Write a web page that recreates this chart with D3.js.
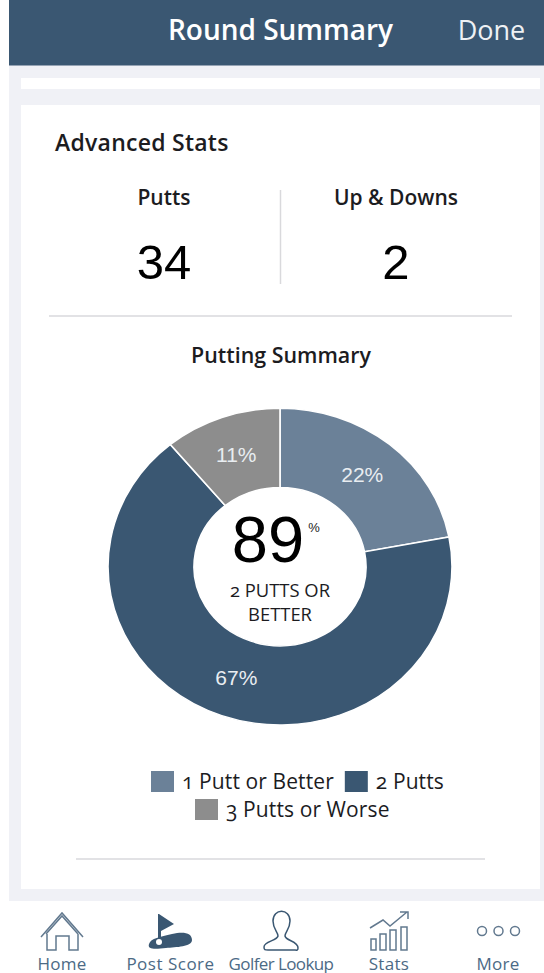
<!DOCTYPE html>
<html>
<head>
<meta charset="utf-8">
<script src="https://cdnjs.cloudflare.com/ajax/libs/d3/7.8.5/d3.min.js"></script>
<style>
  html, body { margin: 0; padding: 0; background: #fff; }
  svg { display: block; }
  text { font-family: "Open Sans", sans-serif; fill: #1c1c1f; font-feature-settings: "onum"; }
</style>
</head>
<body>
<svg width="544" height="973"></svg>
<script>
// Data
const categories = ['1 Putt or Better', '2 Putts', '3 Putts or Worse'];
const values = [22, 67, 11];
const colors = ['#6b8198', '#3a5772', '#8d8d8d'];
const stat_names = ['Putts', 'Up & Downs'];
const stat_values = [34, 2];
const center_value = 89;
const center_lines = ['2 PUTTS OR', 'BETTER'];
const nav_labels = ['Home', 'Post Score', 'Golfer Lookup', 'Stats', 'More'];

// Constants
const svg = d3.select('svg');
const width = +svg.attr('width');
const height = +svg.attr('height');
const navy = '#3a5772';
const page_bg = '#f0f1f6';
const rule = '#d9d9dc';
const helv = '"Liberation Sans", Arial, sans-serif';

const label = (parent, x, y, str, size, opts = {}) => parent.append('text')
    .attr('x', x)
    .attr('y', y)
    .attr('text-anchor', opts.anchor || 'middle')
    .attr('font-size', size)
    .attr('font-weight', opts.weight || 400)
    .attr('letter-spacing', opts.spacing || null)
    .style('font-family', opts.family || null)
    .style('fill', opts.fill || null)
    .text(str);

// Page frame
svg.append('rect').attr('x', 9).attr('y', 0).attr('width', width - 9).attr('height', 901).attr('fill', page_bg);
svg.append('rect').attr('x', 9).attr('y', 0).attr('width', width - 9).attr('height', 65.5).attr('fill', navy);
svg.append('rect').attr('x', 21).attr('y', 78).attr('width', 519).attr('height', 11).attr('fill', '#fff');
svg.append('rect').attr('x', 21).attr('y', 105).attr('width', 519).attr('height', 784).attr('fill', '#fff');

label(svg, 280.5, 40, 'Round Summary', 28, { weight: 600, fill: '#fff' });
label(svg, 491.5, 40, 'Done', 27, { fill: '#eef1f4' });

// Stats block
label(svg, 55, 151, 'Advanced Stats', 23, { anchor: 'start', weight: 600, spacing: 0.25 });
const stat_x = d3.scalePoint().domain(stat_names).range([164, 396]);
stat_names.forEach((name, i) => {
    label(svg, stat_x(name), 205, name, 21, { weight: 600 });
    label(svg, stat_x(name), 279, stat_values[i], 49, { family: helv, fill: '#000' });
});
svg.append('line').attr('x1', 280.5).attr('x2', 280.5).attr('y1', 190).attr('y2', 284).attr('stroke', rule).attr('stroke-width', 1.5);
svg.append('line').attr('x1', 49).attr('x2', 512).attr('y1', 316).attr('y2', 316).attr('stroke', rule).attr('stroke-width', 1.5);
svg.append('line').attr('x1', 76).attr('x2', 485).attr('y1', 859).attr('y2', 859).attr('stroke', rule).attr('stroke-width', 1.5);

label(svg, 281, 363, 'Putting Summary', 21.4, { weight: 600 });

// Donut, squashed vertically like the screenshot
const color = d3.scaleOrdinal().domain(categories).range(colors);
const pie = d3.pie().sort(null).value(d => d.value);
const arc = d3.arc().innerRadius(86).outerRadius(172);
const slices = pie(categories.map((c, i) => ({ category: c, value: values[i] })));
const donut = svg.append('g').attr('transform', 'translate(280,566.6) scale(1,0.921)');

donut.selectAll('path')
    .data(slices)
    .enter()
    .append('path')
    .attr('d', arc)
    .attr('fill', d => color(d.data.category))
    .attr('stroke', '#fff')
    .attr('stroke-width', 1.6);

donut.selectAll('.pct')
    .data(slices)
    .enter()
    .append('text')
    .attr('class', 'pct')
    .attr('transform', d => `translate(${arc.centroid(d)})`)
    .attr('dy', '.36em')
    .attr('text-anchor', 'middle')
    .attr('font-size', 21)
    .style('font-family', helv)
    .style('fill', '#e9edf1')
    .text(d => d.data.value + '%');

// Centre text
label(svg, 268, 562, center_value, 65, { family: helv, fill: '#000' });
label(svg, 314, 532, '%', 13, { family: helv, fill: '#222' });
center_lines.forEach((line, i) => {
    label(svg, 280, 597 + i * 24, line, 18.4);
});

// Legend
const legend_rows = [
    { x: 151, y: 771, items: [0, 1] },
    { x: 195, y: 799, items: [2] },
];
const legend = svg.append('g');
legend_rows.forEach(row => {
    let x = row.x;
    row.items.forEach(i => {
        legend.append('rect')
            .attr('x', x)
            .attr('y', row.y)
            .attr('width', 23)
            .attr('height', 21)
            .attr('fill', color(categories[i]));
        const t = label(legend, x + 31, row.y + 17.5, categories[i], 21, { anchor: 'start', spacing: 0.1 });
        x += 31 + t.node().getComputedTextLength() + 11;
    });
});

// Bottom nav
const nav_x = [62, 170.5, 281, 389, 498];
const nav_spacing = [0.3, 0.5, -0.6, 0.3, 0.3];
nav_labels.forEach((name, i) => {
    label(svg, nav_x[i], 969.5, name, 17, { fill: '#4c6a85', weight: 500, spacing: nav_spacing[i] });
});
const nav = svg.append('g').attr('fill', 'none').attr('stroke', '#62798f').attr('stroke-width', 1.5);
// home
nav.append('path').attr('d', 'M41 937 L62 913 L83 937 M46 934 L62 916 L78 934 M47 934 V950 H56 V936 H69 V950 H78 V934');
// flag and green
svg.append('path').attr('fill', navy).attr('d', 'M159 914 L174 924 L161 931 V942 H158 V914 Z');
svg.append('path').attr('fill', navy).attr('d', 'M149 944 C151 938 160 937 172 934 C184 931 192 933 192 940 C192 947 176 947 166 948 C156 949 147 950 149 944 Z');
svg.append('circle').attr('cx', 159).attr('cy', 942).attr('r', 3).attr('fill', '#fff');
// golfer
nav.append('path').attr('stroke', navy).attr('d', 'M273 921 C273 908 290 908 290 921 C290 929 285 932 285 936 C286 941 298 941 298 948 C298 951 296 950 294 950 H268 C265 950 264 950 264 947 C264 941 277 941 278 936 C278 932 273 929 273 921 Z');
// stats
nav.append('path').attr('d', 'M370 928 L383 920 L390 926 L407 912 M400 912 H408 V919');
nav.append('path').attr('d', 'M371 939 H376 V950 H371 Z M380 934 H386 V950 H380 Z M390 930 H396 V950 H390 Z M401 927 H407 V950 H401 Z');
// more
d3.range(3).forEach(i => {
    nav.append('circle').attr('cx', 482 + i * 16.5).attr('cy', 931).attr('r', 4.5);
});
</script>
</body>
</html>
